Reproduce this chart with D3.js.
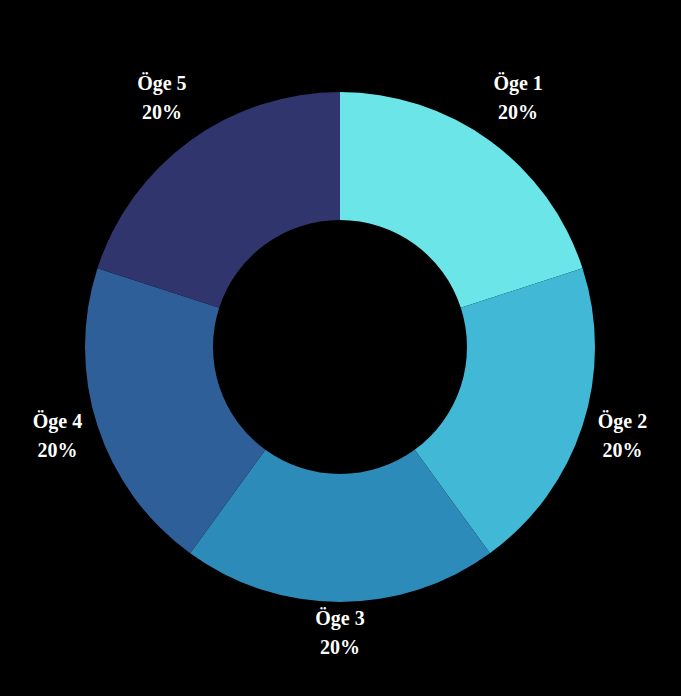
<!DOCTYPE html>
<html><head><meta charset="utf-8">
<script src="https://cdn.jsdelivr.net/npm/d3@7"></script>
<style>html,body{margin:0;padding:0;background:#000;}</style>
</head><body>
<svg id="chart" width="681" height="696"></svg>
<script>
const categories = ["Öge 1","Öge 2","Öge 3","Öge 4","Öge 5"];
const values = [20,20,20,20,20];
const colors = ["#6CE5E8","#41B8D5","#2D8BBA","#2F5F98","#31356E"];

const svg = d3.select("#chart");
svg.append("rect").attr("width",681).attr("height",696).attr("fill","#000");
const cx = 340, cy = 347, rOuter = 255, rInner = 127;
const g = svg.append("g").attr("transform",`translate(${cx},${cy})`);
const total = d3.sum(values);
const pie = d3.pie().sort(null).value(d=>d)(values);
const arc = d3.arc().innerRadius(rInner).outerRadius(rOuter);
g.selectAll("path").data(pie).enter().append("path")
  .attr("d",arc).attr("fill",(d,i)=>colors[i]);

const lab = g.selectAll("g.lab").data(pie).enter().append("g").attr("class","lab")
  .attr("transform",d=>{
    const a=(d.startAngle+d.endAngle)/2;
    const c=Math.cos(a);
    const rx = c>0 ? 303 : 297;
    const x=rx*Math.sin(a);
    const off = c>0 ? -7 : (c>-0.9 ? -4 : -15);
    const y=-300*c + off;
    return `translate(${x},${y})`;
  });
lab.append("text").attr("y",-7.5).attr("text-anchor","middle")
  .attr("font-family","'Liberation Serif','Times New Roman',serif").attr("font-weight","bold")
  .attr("font-size",20).attr("fill","#fff").text((d,i)=>categories[i]);
lab.append("text").attr("y",21.5).attr("text-anchor","middle")
  .attr("font-family","'Liberation Serif','Times New Roman',serif").attr("font-weight","bold")
  .attr("font-size",20).attr("fill","#fff").text(d=>Math.round(d.value/total*100)+"%");
</script>
</body></html>
